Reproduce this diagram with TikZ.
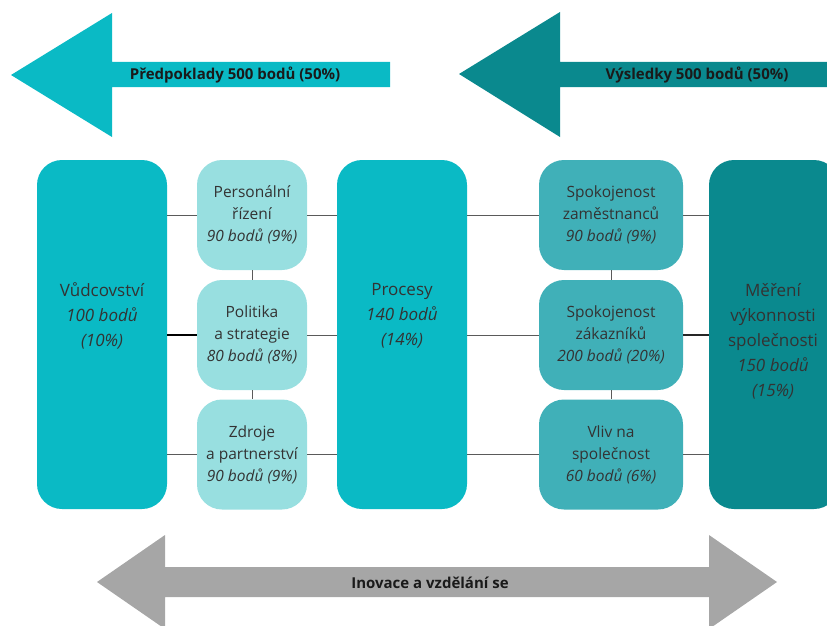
\documentclass[tikz,border=0pt]{standalone}
\usepackage{fontspec}
\setmainfont{Open Sans}
\definecolor{cyanA}{HTML}{0ABAC5}
\definecolor{lightC}{HTML}{98DFE0}
\definecolor{midT}{HTML}{40B0B8}
\definecolor{darkT}{HTML}{0A898E}
\definecolor{greyA}{HTML}{A6A6A6}
\definecolor{txt}{HTML}{333333}
\definecolor{lbl}{HTML}{1A1A1A}
\definecolor{lineC}{HTML}{5A5A5A}
\tikzset{
  bigbox/.style={rounded corners=25pt, minimum width=130pt, minimum height=349pt, inner sep=0pt},
  smallbox/.style={rounded corners=25pt, minimum height=110pt, inner sep=0pt, align=center,
     text=txt, font=\fontsize{15.5}{22}\selectfont},
  bigtext/.style={align=center, text=txt, font=\fontsize{17}{25}\selectfont, anchor=north, inner sep=0pt},
  arrowlabel/.style={text=lbl, font=\bfseries\fontsize{15}{18}\selectfont, inner sep=0pt},
  conn/.style={draw=lineC, line width=1pt},
  connbold/.style={draw=black, line width=2pt}
}
\begin{document}
\begin{tikzpicture}[x=1pt,y=-1pt]
\useasboundingbox (0,0) rectangle (827,626);
\clip (0,0) rectangle (827,626);

% top arrows
\fill[cyanA] (11,75) -- (112,13) -- (112,62) -- (390,62) -- (390,87) -- (112,87) -- (112,137) -- cycle;
\node[arrowlabel] (lblA) at (235,75) {Předpoklady 500 bodů (50\%)};
\fill[darkT] (459,74) -- (560,12) -- (560,62) -- (850,62) -- (850,87) -- (560,87) -- (560,137) -- cycle;
\node[arrowlabel] (lblB) at (697,75) {Výsledky 500 bodů (50\%)};

% bottom arrow
\fill[greyA] (97,582) -- (165,535) -- (165,567) -- (709,567) -- (709,535) -- (777,582)
  -- (709,629) -- (709,597) -- (165,597) -- (165,629) -- cycle;
\node[arrowlabel] (lblC) at (430,583) {Inovace a vzdělání se};

% big boxes
\node[bigbox, fill=cyanA] (vud) at (102,334.5) {};
\node[bigbox, fill=cyanA] (proc) at (402,334.5) {};
\node[bigbox, fill=darkT] (mer) at (774,334.5) {};
\node[bigtext] (vudT) at (102,282) {Vůdcovství\\\textit{100 bodů}\\\textit{(10\%)}};
\node[bigtext] (procT) at (402,283) {Procesy\\\textit{140 bodů}\\\textit{(14\%)}};
\node[bigtext] (merT) at (773,283) {Měření\\výkonnosti\\společnosti\\\textit{150 bodů}\\\textit{(15\%)}};

% small left boxes
\node[smallbox, fill=lightC, minimum width=110pt] (pers) at (252,215) {Personální\\řízení\\\textit{90 bodů (9\%)}};
\node[smallbox, fill=lightC, minimum width=110pt] (pol) at (252,335) {Politika\\a strategie\\\textit{80 bodů (8\%)}};
\node[smallbox, fill=lightC, minimum width=110pt] (zdr) at (252,454.5) {Zdroje\\a partnerství\\\textit{90 bodů (9\%)}};

% small right boxes
\node[smallbox, fill=midT, minimum width=144pt] (spz) at (611,215) {Spokojenost\\zaměstnanců\\\textit{90 bodů (9\%)}};
\node[smallbox, fill=midT, minimum width=144pt] (spk) at (611,335) {Spokojenost\\zákazníků\\\textit{200 bodů (20\%)}};
\node[smallbox, fill=midT, minimum width=144pt] (vliv) at (611,454.5) {Vliv na\\společnost\\\textit{60 bodů (6\%)}};

% connectors
\draw[conn] (vud.east |- pers.west) -- (pers.west);
\draw[connbold] (vud.east |- pol.west) -- (pol.west);
\draw[conn] (vud.east |- zdr.west) -- (zdr.west);
\draw[conn] (pers.east) -- (proc.west |- pers.east);
\draw[conn] (pol.east) -- (proc.west |- pol.east);
\draw[conn] (zdr.east) -- (proc.west |- zdr.east);
\draw[conn] (proc.east |- spz.west) -- (spz.west);
\draw[conn] (proc.east |- spk.west) -- (spk.west);
\draw[conn] (proc.east |- vliv.west) -- (vliv.west);
\draw[conn] (spz.east) -- (mer.west |- spz.east);
\draw[conn, draw=black!85, line width=1.2pt] (spk.east) -- (mer.west |- spk.east);
\draw[conn] (vliv.east) -- (mer.west |- vliv.east);
\draw[conn] (pers.south) -- (pol.north);
\draw[conn] (pol.south) -- (zdr.north);
\draw[conn] (spz.south) -- (spk.north);
\draw[conn] (spk.south) -- (vliv.north);
\end{tikzpicture}
\end{document}
